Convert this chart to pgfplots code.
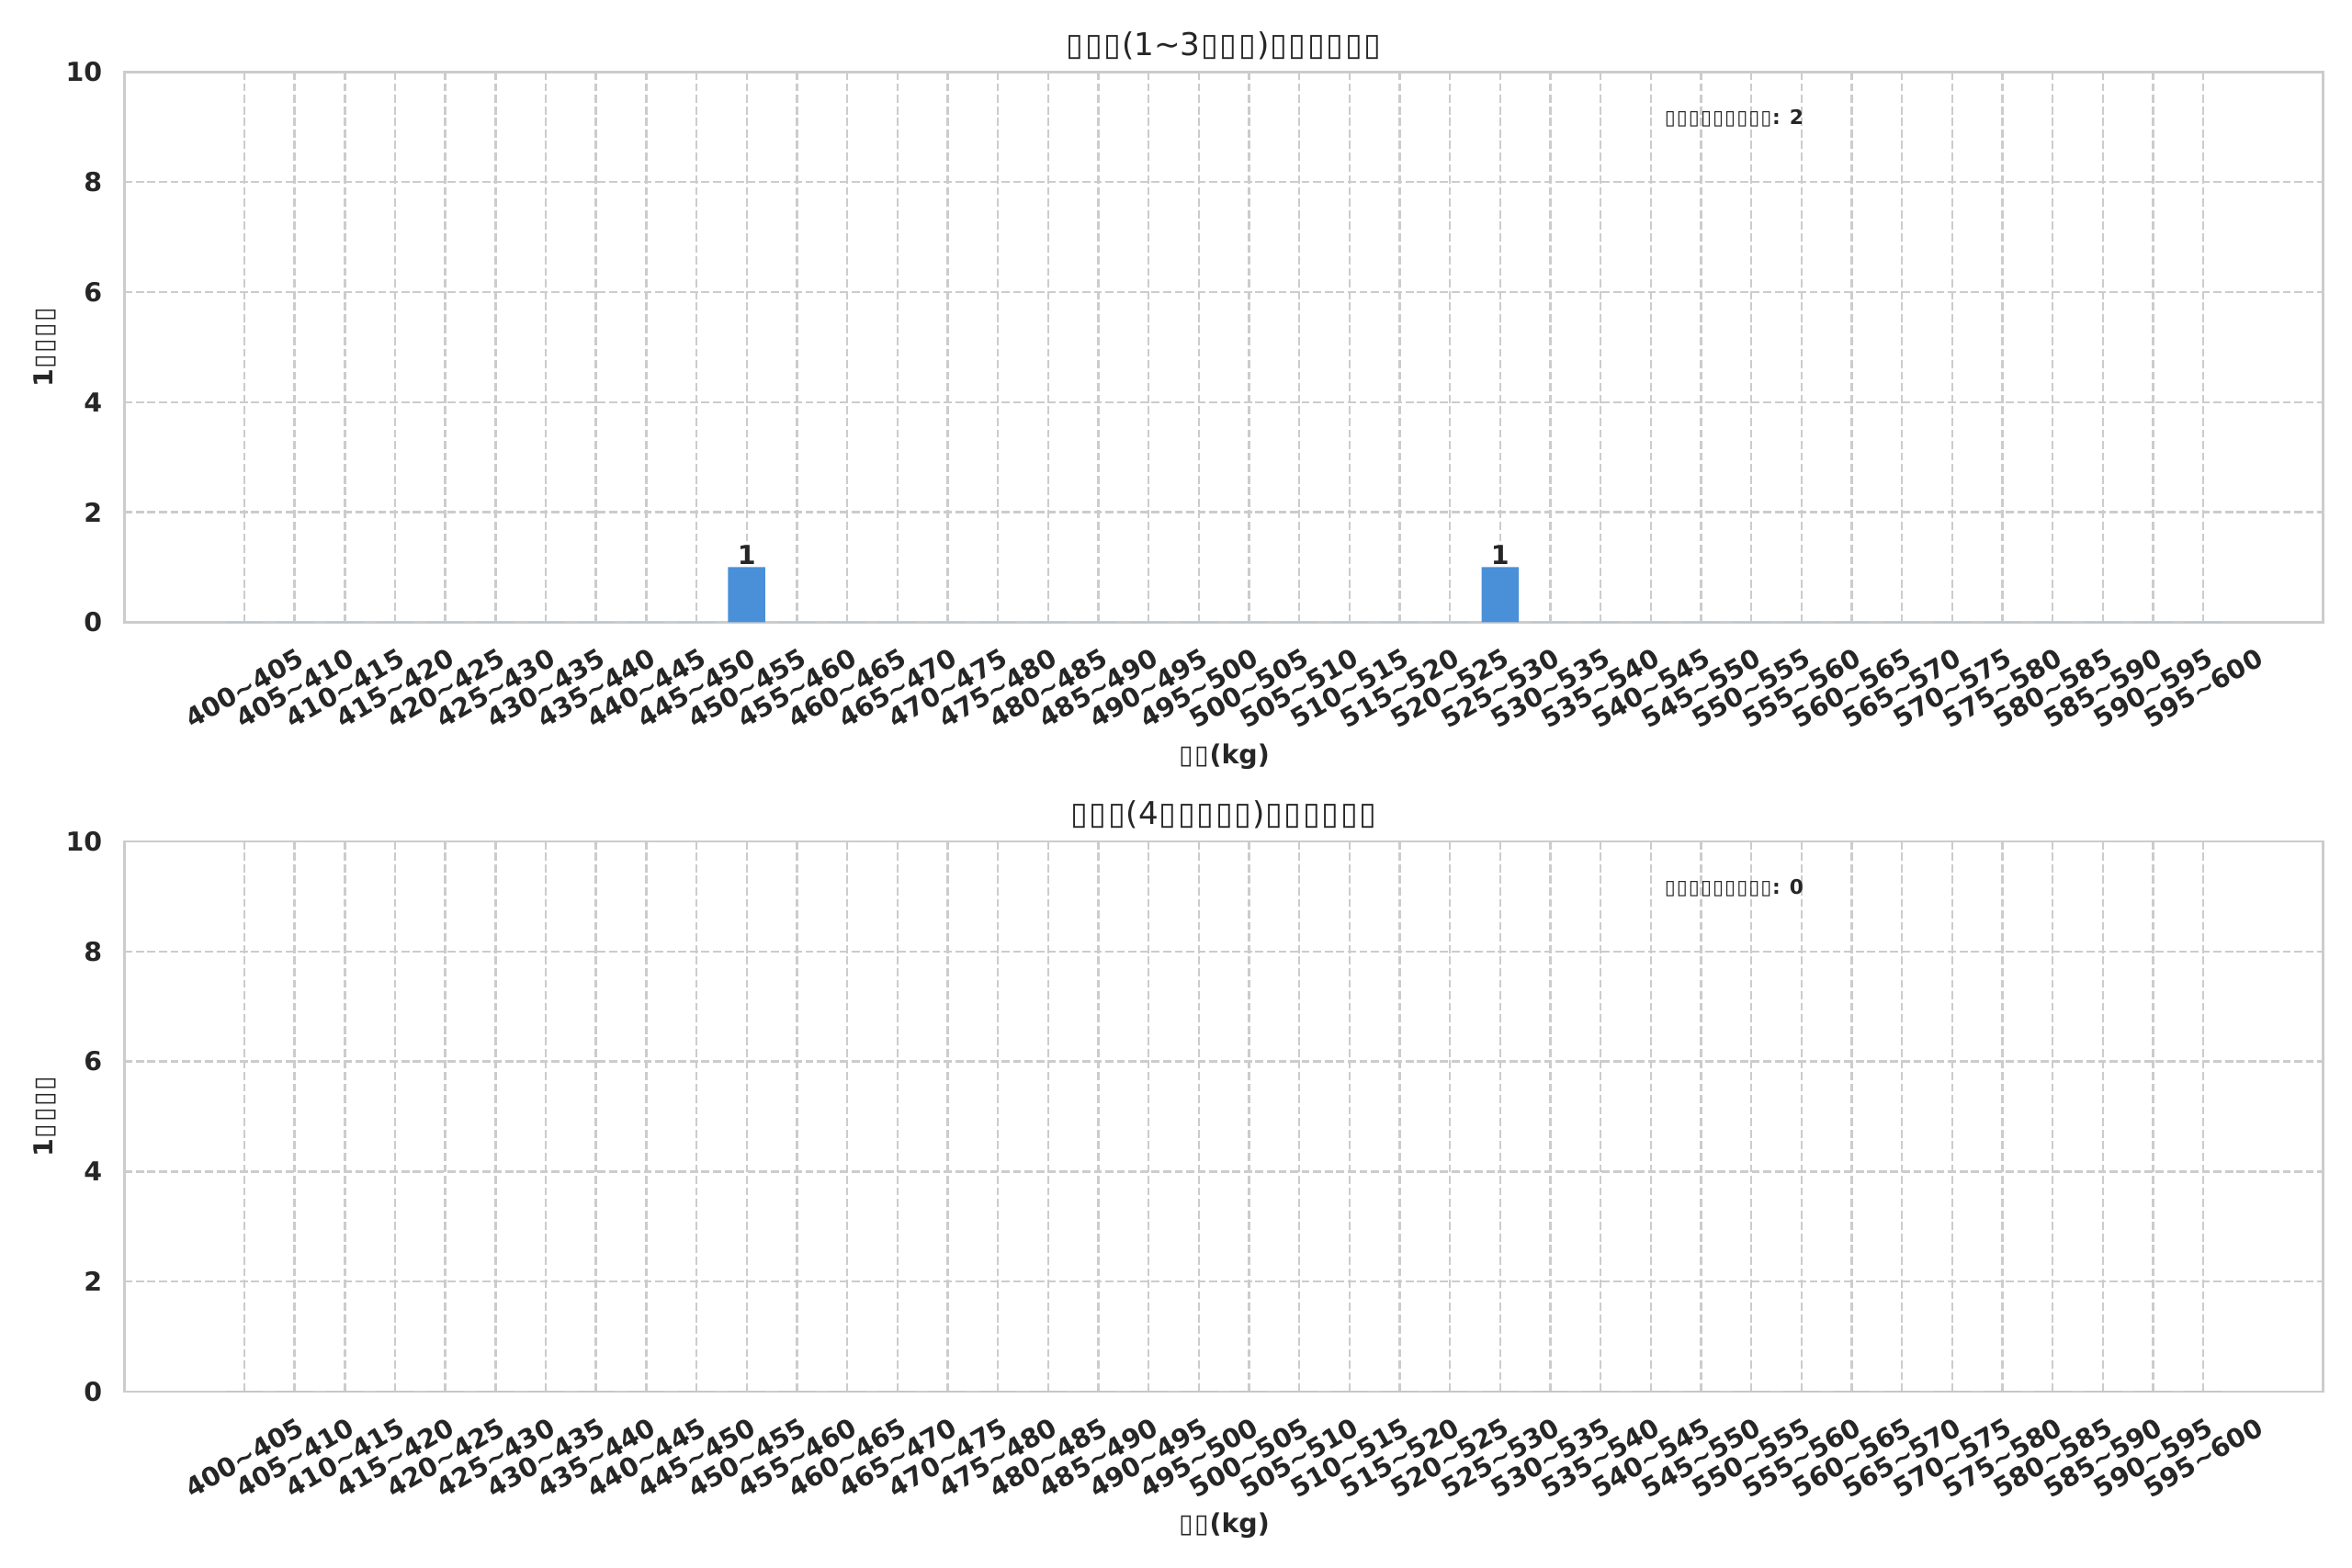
\documentclass[border=0pt]{standalone}
\usepackage{fontspec}
\setmainfont{DejaVu Sans}
\newfontfamily\dv{DejaVu Sans}
\usepackage{pgfplots}
\pgfplotsset{compat=1.18}
\usepackage{pgfplotstable}
\definecolor{txt}{HTML}{262626}
\definecolor{gridc}{HTML}{CCCCCC}
\definecolor{barc}{HTML}{4A90D9}
\newcommand\tf{\makebox[0.6em][c]{\dv\mdseries ▯}}
\newcommand\tl{\textasciitilde}

\pgfplotstableread{
idx count
0 0
1 0
2 0
3 0
4 0
5 0
6 0
7 0
8 0
9 0
10 1
11 0
12 0
13 0
14 0
15 0
16 0
17 0
18 0
19 0
20 0
21 0
22 0
23 0
24 0
25 1
26 0
27 0
28 0
29 0
30 0
31 0
32 0
33 0
34 0
35 0
36 0
37 0
38 0
39 0
}\first

\pgfplotstableread{
idx count
0 0
1 0
2 0
3 0
4 0
5 0
6 0
7 0
8 0
9 0
10 0
11 0
12 0
13 0
14 0
15 0
16 0
17 0
18 0
19 0
20 0
21 0
22 0
23 0
24 0
25 0
26 0
27 0
28 0
29 0
30 0
31 0
32 0
33 0
34 0
35 0
36 0
37 0
38 0
39 0
}\second

\pgfplotsset{
 myax/.style={
  scale only axis, width=1009.8pt, height=252.7pt,
  xmin=-2.39, xmax=41.39, ymin=0, ymax=10,
  xtick={0,...,39},
  xticklabels={400\tl 405,405\tl 410,410\tl 415,415\tl 420,420\tl 425,425\tl 430,430\tl 435,435\tl 440,440\tl 445,445\tl 450,
   450\tl 455,455\tl 460,460\tl 465,465\tl 470,470\tl 475,475\tl 480,480\tl 485,485\tl 490,490\tl 495,495\tl 500,
   500\tl 505,505\tl 510,510\tl 515,515\tl 520,520\tl 525,525\tl 530,530\tl 535,535\tl 540,540\tl 545,545\tl 550,
   550\tl 555,555\tl 560,560\tl 565,565\tl 570,570\tl 575,575\tl 580,580\tl 585,585\tl 590,590\tl 595,595\tl 600},
  ytick={0,2,...,10},
  grid=major,
  major grid style={gridc, line width=1pt, dash pattern=on 3.7pt off 1.6pt},
  axis line style={gridc, line width=1.25pt},
  major tick length=0pt,
  tick label style={font=\fontsize{12}{14}\selectfont\bfseries, text=txt},
  /pgf/number format/assume math mode=true,
  xticklabel style={yshift=-30.3pt, rotate=30, anchor=center},
  yticklabel style={anchor=east, inner sep=0pt, xshift=-10pt},
  every axis title shift=0pt,
  title style={font=\fontsize{14.4}{16}\selectfont, text=txt, at={(axis description cs:0.5,1.0483)}, anchor=center},
  xlabel style={font=\fontsize{12}{14}\selectfont\bfseries, text=txt, at={(axis description cs:0.5,-0.2438)}, anchor=center},
  ylabel style={font=\fontsize{12}{14}\selectfont\bfseries, text=txt, at={(axis description cs:-0.03605,0.5)}, anchor=center},
  xlabel={\tf\tf(kg)},
  ylabel={1\tf\tf\tf\tf},
 },
 mybar/.style={
  ybar, bar width=0.74, fill=barc, draw=none,
  nodes near coords={\pgfmathfloatifflags{\pgfplotspointmeta}{0}{}{\pgfmathprintnumber{\pgfplotspointmeta}}},
  every node near coord/.append style={font=\fontsize{12}{14}\selectfont\bfseries, text=txt, anchor=south, inner sep=0pt, yshift=1pt},
 }
}

\begin{document}
\begin{tikzpicture}
\path[use as bounding box] (0,0) rectangle (1080pt,720.14pt);
\begin{axis}[myax, at={(57.08pt,434.4pt)}, anchor=south west,
  title={\tf\tf\tf(1\tl 3\tf\tf\tf)\tf\tf\tf\tf\tf\tf}]
\addplot[mybar] table[x=idx,y=count]{\first};
\node[anchor=west, inner sep=0pt, font=\fontsize{9.2}{11}\selectfont\bfseries, text=txt] at (rel axis cs:0.7,0.915) {\tf\tf\tf\tf\tf\tf\tf\tf\tf: 2};
\end{axis}
\begin{axis}[myax, at={(57.08pt,81.0pt)}, anchor=south west,
  title={\tf\tf\tf(4\tf\tf\tf\tf\tf)\tf\tf\tf\tf\tf\tf}]
\addplot[mybar] table[x=idx,y=count]{\second};
\node[anchor=west, inner sep=0pt, font=\fontsize{9.2}{11}\selectfont\bfseries, text=txt] at (rel axis cs:0.7,0.915) {\tf\tf\tf\tf\tf\tf\tf\tf\tf: 0};
\end{axis}
\end{tikzpicture}
\end{document}
